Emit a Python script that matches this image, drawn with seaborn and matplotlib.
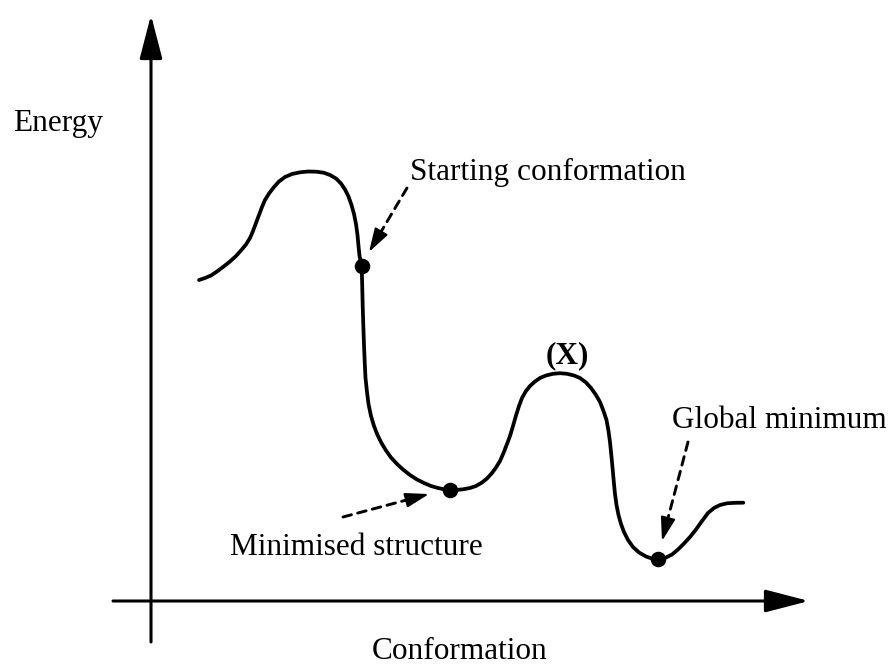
import matplotlib
matplotlib.use("Agg")
import matplotlib.pyplot as plt
import seaborn as sns
import pandas as pd
import numpy as np

# Energy profile along the conformational coordinate
conformation = [199, 205, 211, 217, 223, 230, 236, 241, 246, 250,
                253, 256, 259, 262, 265, 269, 274, 279, 285, 292,
                300, 308, 316.7, 324, 330, 336, 341, 345, 348.5, 351.5,
                354, 356, 357.5, 358.5, 359.5, 361.7, 362.2, 362.7, 363.3, 364,
                364.7, 365.5, 367, 368.5, 371, 374, 377.5, 381.5, 386, 391,
                397, 403, 410, 417, 424, 431, 438, 444, 449.5, 456,
                463, 470, 476, 482, 487, 492, 496, 500, 503.5, 507,
                510, 513, 516, 519, 522, 526, 530, 535, 540, 546,
                553, 560, 567, 574, 580, 586, 591, 596, 600, 603.5,
                606.5, 608.5, 610, 611, 612, 613, 614, 615, 616.5, 618.5,
                621, 624, 628, 633, 639, 646, 652, 658.3, 665, 672,
                678, 684, 690, 696, 702, 708, 714, 720, 727, 735, 743.3]
energy = [321, 323, 325.5, 329.5, 334, 339.5, 345, 350.5, 356.5, 363,
          370, 378, 386, 394, 401, 407.5, 414, 419.5, 424, 427,
          428.7, 429.5, 429.3, 428.2, 426, 422.5, 417.5, 411.5, 404.5, 396,
          387, 377, 366, 355, 345, 335, 316, 295, 276, 256,
          239, 223, 209, 197, 185, 175, 166, 158, 150.5, 143.5,
          137, 131.5, 126, 121.5, 118, 115, 113, 111.7, 111, 111,
          111.7, 113, 115, 118.5, 122.5, 128, 133.5, 140, 148, 157,
          165, 175, 185.5, 195, 203, 210, 215, 219.5, 223, 225.5,
          227.2, 227.8, 227.2, 225.5, 223, 218.5, 213, 206, 199, 190,
          181, 170, 159, 149, 139, 128, 117, 107, 96, 86,
          77, 69, 61, 54, 48.5, 44.5, 42.4, 41.7, 43, 46.5,
          51.5, 57.5, 64, 71.5, 80, 88, 93, 96, 97.7, 98.2, 98.3]

# Highlighted structures on the profile
marked_names = ["Starting conformation", "Minimised structure", "Global minimum"]
marked_conf = [361.7, 449.5, 658.3]
marked_energy = [335, 111, 41.7]

sns.set_theme(style="white")
plt.rcParams["font.family"] = ["Liberation Serif", "DejaVu Serif"]
plt.rcParams["text.color"] = "black"

fig = plt.figure(figsize=(8.96, 6.67), dpi=100)
ax = fig.add_axes([0, 0, 1, 1])
ax.set_xlim(0, 896)
ax.set_ylim(-66, 601)
ax.axis("off")

profile = pd.DataFrame({"conformation": conformation, "energy": energy})
sns.lineplot(data=profile, x="conformation", y="energy", sort=False, color="black",
             lw=2.7, ax=ax, solid_capstyle="round", solid_joinstyle="round")

points = pd.DataFrame({"name": marked_names, "conformation": marked_conf, "energy": marked_energy})
sns.scatterplot(data=points, x="conformation", y="energy", color="black", s=125,
                edgecolor="black", linewidth=0, ax=ax, zorder=5, legend=False)

# Coordinate axes with solid arrowheads
axis_style = dict(arrowstyle="-|>,head_length=2.7,head_width=0.7", color="black",
                  lw=2.2, shrinkA=0, shrinkB=0, mutation_scale=10)
ax.annotate("", xy=(151, 586), xytext=(151, -41), arrowprops=axis_style)
ax.annotate("", xy=(809, 0), xytext=(113, 0), arrowprops=axis_style)


def dashed_pointer(tail, tip, head=20):
    """Dashed shaft with a solid filled head ending at tip."""
    tail = np.asarray(tail, float)
    tip = np.asarray(tip, float)
    d = (tip - tail) / np.hypot(*(tip - tail))
    base = tip - d * head
    ax.annotate("", xy=base, xytext=tail,
                arrowprops=dict(arrowstyle="-", color="black", lw=2.1,
                                linestyle=(0, (3, 2.2)), shrinkA=0, shrinkB=0))
    ax.annotate("", xy=tip, xytext=tip - d * (head + 1),
                arrowprops=dict(arrowstyle="-|>,head_length=1.45,head_width=0.45",
                                color="black", lw=1.5, shrinkA=0, shrinkB=0,
                                mutation_scale=10))


dashed_pointer((407, 601 - 188), (369, 601 - 252))
dashed_pointer((343, 601 - 517), (429, 601 - 494))
dashed_pointer((688, 601 - 442), (662, 601 - 541))

fs = 22.5
ax.text(13, 601 - 131, "Energy", fontsize=fs, ha="left", va="baseline", color="black")
ax.text(372, 601 - 659, "Conformation", fontsize=fs, ha="left", va="baseline", color="black")
ax.text(567, 601 - 363, "(X)", fontsize=fs, ha="center", va="baseline",
        fontweight="bold", color="black")
ax.text(410, 601 - 180, "Starting conformation", fontsize=fs, ha="left", va="baseline",
        color="black")
ax.text(230, 601 - 555, "Minimised structure", fontsize=fs, ha="left", va="baseline",
        color="black")
ax.text(672, 601 - 428, "Global minimum", fontsize=fs, ha="left", va="baseline",
        color="black")

fig.savefig("out.png", dpi=100, facecolor="white")
